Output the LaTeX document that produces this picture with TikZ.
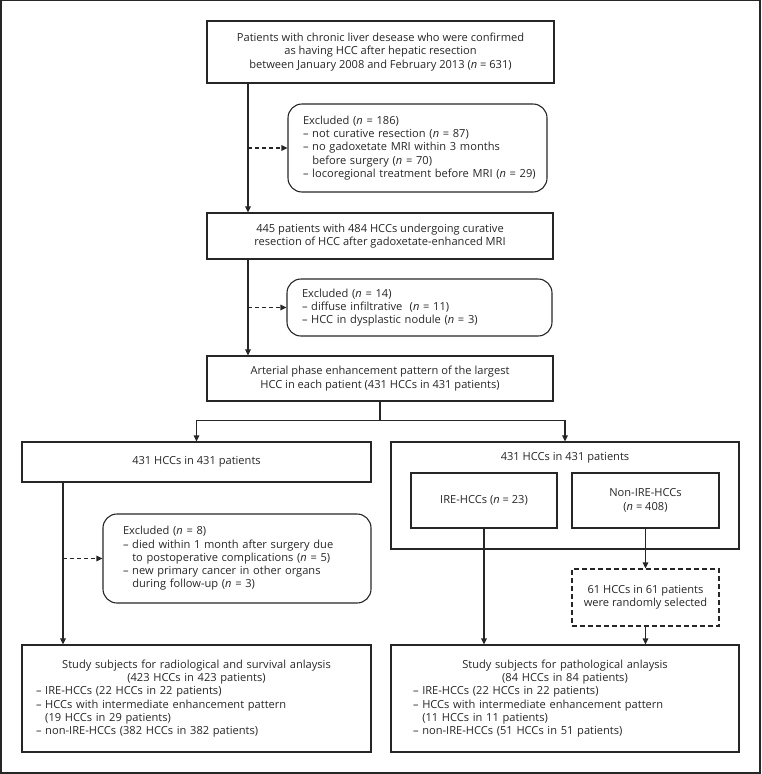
\documentclass[tikz,border=0pt]{standalone}
\usepackage{fontspec}
\setmainfont{Open Sans}
\usetikzlibrary{arrows.meta,calc}
\definecolor{ink}{HTML}{262626}
\definecolor{txt}{HTML}{262626}
\begin{document}
\begin{tikzpicture}[x=1pt,y=-1pt,
  every node/.style={font=\fontsize{11.1}{13.3}\selectfont, text=txt},
  box/.style={draw=ink, line width=1.1pt, rectangle, inner sep=0pt, align=center},
  rbox/.style={draw=ink, line width=1.1pt, rectangle, rounded corners=14pt, inner ysep=0pt, align=left},
  arr/.style={draw=ink, line width=1.1pt, -{Triangle[length=6pt,width=5.5pt]}},
  darr/.style={arr, dash pattern=on 4pt off 3pt},
]
\useasboundingbox (0,0) rectangle (761,774);
\draw[ink, line width=1.2pt] (1,0.6) rectangle (760,773);

% top chain
\node[box, minimum width=347pt, minimum height=62pt] (b1) at (380.5,52)
  {Patients with chronic liver desease who were confirmed\\as having HCC after hepatic resection\\between January 2008 and February 2013 (\textit{n} = 631)};
\node[rbox, minimum width=259pt, minimum height=88pt, inner xsep=15pt, text width=229pt] (e1) at (417.5,148)
  {Excluded (\textit{n} = 186)\\
   – not curative resection (\textit{n} = 87)\\
   – no gadoxetate MRI within 3 months\\
   \hphantom{– }before surgery (\textit{n} = 70)\\
   \mbox{– locoregional treatment before MRI (\textit{n} = 29)}};
\node[box, minimum width=346pt, minimum height=46pt] (b2) at (380,236)
  {445 patients with 484 HCCs undergoing curative\\resection of HCC after gadoxetate-enhanced MRI};
\node[rbox, minimum width=265pt, minimum height=57pt, inner xsep=15pt, text width=235pt] (e2) at (419.5,307.5)
  {Excluded (\textit{n} = 14)\\
   – diffuse infiltrative\ \ (\textit{n} = 11)\\
   – HCC in dysplastic nodule (\textit{n} = 3)};
\node[box, minimum width=346pt, minimum height=45pt] (b3) at (380,378.5)
  {Arterial phase enhancement pattern of the largest\\HCC in each patient (431 HCCs in 431 patients)};

\coordinate (v1) at (248,0);
\draw[arr] (b1.south -| v1) -- (b2.north -| v1);
\draw[darr] (v1 |- e1.west) -- (e1.west);
\draw[arr] (b2.south -| v1) -- (b3.north -| v1);
\draw[darr] (v1 |- e2.west) -- (e2.west);

% left branch
\node[box, minimum width=349pt, minimum height=40pt] (L1) at (196.5,462) {431 HCCs in 431 patients};
\node[rbox, minimum width=268pt, minimum height=89pt, inner xsep=20pt, text width=228pt] (e3) at (237,558.5)
  {Excluded (\textit{n} = 8)\\
   – died within 1 month after surgery due\\
   \hphantom{– }to postoperative complications (\textit{n} = 5)\\
   – new primary cancer in other organs\\
   \hphantom{– }during follow-up (\textit{n} = 3)};
\node[box, minimum width=349pt, minimum height=107pt, inner xsep=14pt, text width=321pt, align=left] (FL) at (196.5,698.5)
  {{\centering Study subjects for radiological and survival anlaysis\\(423 HCCs in 423 patients)\par}
   – IRE-HCCs (22 HCCs in 22 patients)\\
   – HCCs with intermediate enhancement pattern\\
   \hphantom{– }(19 HCCs in 29 patients)\\
   – non-IRE-HCCs (382 HCCs in 382 patients)};

% right branch
\node[box, minimum width=348pt, minimum height=107pt] (R) at (565,495.5) {};
\node (Rt) at (565,458) {431 HCCs in 431 patients};
\node[box, minimum width=146pt, minimum height=55pt] (ire) at (484,500.5) {IRE-HCCs (\textit{n} = 23)};
\node[box, minimum width=147pt, minimum height=55pt] (non) at (645.5,500.5) {Non-IRE-HCCs\\(\textit{n} = 408)};
\node[box, dash pattern=on 5pt off 3pt, minimum width=147pt, minimum height=57pt] (rs) at (645.5,597.5)
  {61 HCCs in 61 patients\\were randomly selected};
\node[box, minimum width=348pt, minimum height=107pt, inner xsep=22pt, text width=304pt, align=left] (FR) at (565,698.5)
  {{\centering Study subjects for pathological anlaysis\\(84 HCCs in 84 patients)\par}
   – IRE-HCCs (22 HCCs in 22 patients)\\
   – HCCs with intermediate enhancement pattern\\
   \hphantom{– }(11 HCCs in 11 patients)\\
   – non-IRE-HCCs (51 HCCs in 51 patients)};

% split
\coordinate (sp) at ($(b3.south)+(0,19)$);
\draw[arr] (b3.south) -- (sp) -| (L1.north);
\draw[arr] (sp) -| (R.north);

\coordinate (v2) at (63,0);
\draw[arr] (L1.south -| v2) -- (FL.north -| v2);
\draw[darr] (v2 |- e3.west) -- (e3.west);

\draw[arr] (ire.south) -- (ire.south |- FR.north);
\draw[arr] (non.south) -- (rs.north);
\draw[arr] (rs.south) -- (rs.south |- FR.north);
\end{tikzpicture}
\end{document}
